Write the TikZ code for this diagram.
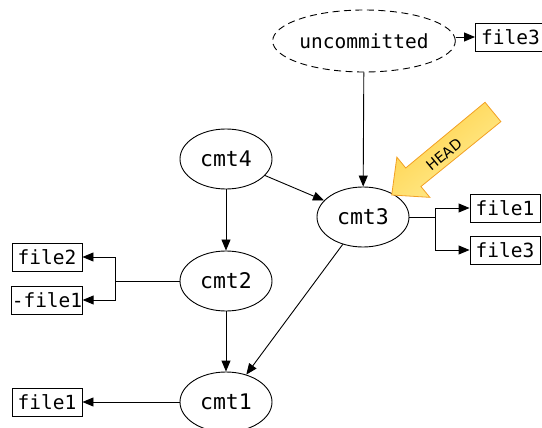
\documentclass[tikz,border=0pt]{standalone}
\usepackage{fontspec}
\newfontfamily\gitmono{DejaVu Sans Mono}
\newfontfamily\gitsans{DejaVu Sans}
\usetikzlibrary{arrows.meta,shapes.geometric}

\definecolor{headdark}{RGB}{255,208,70}
\definecolor{headlight}{RGB}{255,238,150}
\definecolor{headedge}{RGB}{242,160,35}

\tikzset{
  commit/.style={ellipse, draw, line width=0.9pt, minimum width=92pt,
    minimum height=60pt, inner sep=0pt, font=\gitmono\fontsize{21.5}{24}\selectfont},
  pending/.style={commit, dash pattern=on 7pt off 4.5pt, minimum width=145pt,
    minimum height=62pt, font=\gitmono\fontsize{19.5}{22}\selectfont},
  filebox/.style={rectangle, draw, line width=0.9pt, minimum width=70pt,
    minimum height=28pt, inner sep=0pt, font=\gitmono\fontsize{19.5}{22}\selectfont},
  link/.style={line width=0.9pt, -{Triangle[length=11pt,width=9pt]}},
  wire/.style={line width=0.9pt},
}

\begin{document}
\begin{tikzpicture}[x=1pt, y=-1pt]
  \useasboundingbox (0,0) rectangle (542,428);

  % commits
  \node[pending] (unc) at (364,41) {uncommitted};
  \node[commit]  (c4)  at (226,159) {cmt4};
  \node[commit]  (c3)  at (363,217) {cmt3};
  \node[commit]  (c2)  at (226,281) {cmt2};
  \node[commit]  (c1)  at (226,402) {cmt1};

  % changed files
  \node[filebox] (f3top) at (510.5,37) {file3};
  \node[filebox] (f1r)   at (505,208) {file1};
  \node[filebox] (f3r)   at (505,250) {file3};
  \node[filebox] (f2l)   at (47,257)  {file2};
  \node[filebox] (mf1l)  at (47,300)  {-file1};
  \node[filebox] (f1l)   at (47,402)  {file1};

  % history
  \draw[link] (unc) -- (c3);
  \draw[link] (c4) -- (c3);
  \draw[link] (c4) -- (c2);
  \draw[link] (c2) -- (c1);
  \draw[link] (c3) -- (c1);

  % file lists
  \draw[link] (f3top.west -| unc.east) -- (f3top.west);

  \coordinate (b3) at (435,217);
  \draw[wire] (c3.east) -- (b3);
  \draw[link] (b3) |- (f1r.west);
  \draw[link] (b3) |- (f3r.west);

  \coordinate (b2) at (115,281);
  \draw[wire] (c2.west) -- (b2);
  \draw[link] (b2) |- (f2l.east);
  \draw[link] (b2) |- (mf1l.east);

  \draw[link] (c1.west) -- (f1l.east);

  % HEAD pointer
  \shadedraw[draw=headedge, line width=0.8pt, line join=miter,
      top color=headdark, bottom color=headlight, shading angle=39]
    (391.7,195) -- (396.86,157.15) -- (405.73,167.97) -- (485.03,102.29)
    -- (500.89,121.61) -- (420.95,186.53) -- (429.82,197.35) -- cycle;
  \node[rotate=39.4, font=\gitsans\fontsize{14.5}{16}\selectfont, inner sep=0pt]
    (head) at (444,154.7) {HEAD};
\end{tikzpicture}
\end{document}
